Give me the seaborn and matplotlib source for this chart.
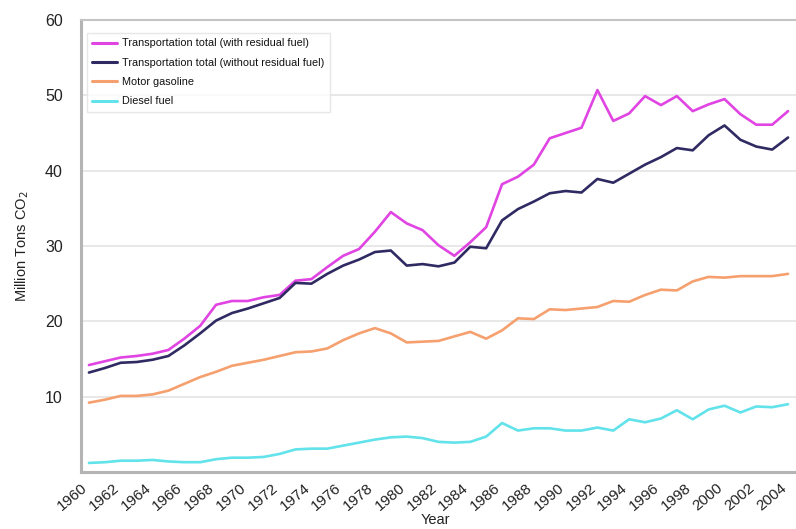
import matplotlib
matplotlib.use("Agg")
import matplotlib.pyplot as plt
import matplotlib.transforms as mtransforms
import numpy as np
import pandas as pd
import seaborn as sns

years = list(range(1960, 2005))

transport_with_residual = [
    14.2, 14.7, 15.2, 15.4, 15.7, 16.2, 17.7, 19.4, 22.2, 22.7,
    22.7, 23.2, 23.5, 25.4, 25.6, 27.2, 28.7, 29.6, 31.9, 34.5,
    33.0, 32.1, 30.1, 28.7, 30.5, 32.5, 38.2, 39.2, 40.8, 44.3,
    45.0, 45.7, 50.7, 46.6, 47.6, 49.9, 48.7, 49.9, 47.9, 48.8,
    49.5, 47.5, 46.1, 46.1, 47.9,
]
transport_without_residual = [
    13.2, 13.8, 14.5, 14.6, 14.9, 15.4, 16.8, 18.4, 20.1, 21.1,
    21.7, 22.4, 23.1, 25.1, 25.0, 26.3, 27.4, 28.2, 29.2, 29.4,
    27.4, 27.6, 27.3, 27.8, 29.9, 29.7, 33.4, 34.9, 35.9, 37.0,
    37.3, 37.1, 38.9, 38.4, 39.6, 40.8, 41.8, 43.0, 42.7, 44.7,
    46.0, 44.1, 43.2, 42.8, 44.4,
]
motor_gasoline = [
    9.2, 9.6, 10.1, 10.1, 10.3, 10.8, 11.7, 12.6, 13.3, 14.1,
    14.5, 14.9, 15.4, 15.9, 16.0, 16.4, 17.5, 18.4, 19.1, 18.4,
    17.2, 17.3, 17.4, 18.0, 18.6, 17.7, 18.8, 20.4, 20.3, 21.6,
    21.5, 21.7, 21.9, 22.7, 22.6, 23.5, 24.2, 24.1, 25.3, 25.9,
    25.8, 26.0, 26.0, 26.0, 26.3,
]
diesel_fuel = [
    1.2, 1.3, 1.5, 1.5, 1.6, 1.4, 1.3, 1.3, 1.7, 1.9,
    1.9, 2.0, 2.4, 3.0, 3.1, 3.1, 3.5, 3.9, 4.3, 4.6,
    4.7, 4.5, 4.0, 3.9, 4.0, 4.7, 6.5, 5.5, 5.8, 5.8,
    5.5, 5.5, 5.9, 5.5, 7.0, 6.6, 7.1, 8.2, 7.0, 8.3,
    8.8, 7.9, 8.7, 8.6, 9.0,
]

series_names = [
    "Transportation total (with residual fuel)",
    "Transportation total (without residual fuel)",
    "Motor gasoline",
    "Diesel fuel",
]
colors = ["#e044e2", "#2f2a62", "#f5a06e", "#62e2ea"]

x_tick_years = list(range(1960, 2005, 2))
y_ticks = [10, 20, 30, 40, 50, 60]

frames = []
for name, vals in zip(series_names, [transport_with_residual, transport_without_residual,
                                      motor_gasoline, diesel_fuel]):
    frames.append(pd.DataFrame({"Year": years, "Value": vals, "Series": name}))
df = pd.concat(frames, ignore_index=True)

sns.set_theme(style="white")
plt.rcParams["font.family"] = ["Liberation Sans", "DejaVu Sans"]

fig = plt.figure(figsize=(7.96, 5.29), dpi=100)
ax = fig.add_axes([81 / 796, 57 / 529, 715 / 796, 452 / 529])

sns.lineplot(data=df, x="Year", y="Value", hue="Series", hue_order=series_names,
             palette=colors, linewidth=1.9, ax=ax, legend=True)

ax.set_xlim(1959.5, 2004.5)
ax.set_ylim(0, 60)
ax.set_yticks(y_ticks)
ax.set_yticklabels([str(v) for v in y_ticks], fontsize=11.5, color="#222222")
ax.set_xticks(x_tick_years)
ax.set_xticklabels([str(v) for v in x_tick_years], fontsize=11, color="#222222",
                   rotation=40, ha="right", va="top", rotation_mode="anchor")
ax.tick_params(axis="y", length=0, pad=13)
ax.tick_params(axis="x", length=0, pad=6)

offset = mtransforms.ScaledTranslation(-8 / 100, 0, fig.dpi_scale_trans)
for lbl in ax.get_xticklabels():
    lbl.set_transform(lbl.get_transform() + offset)

ax.yaxis.grid(True, color="#e8e8e8", linewidth=1.4)
ax.xaxis.grid(False)
ax.set_axisbelow(True)

for side in ["left", "bottom"]:
    ax.spines[side].set_color("#b4b4b4")
    ax.spines[side].set_linewidth(2.2)
ax.spines["top"].set_color("#c4c4c4")
ax.spines["top"].set_linewidth(1.5)
ax.spines["right"].set_visible(False)

ax.set_xlabel("Year", fontsize=10.5, color="#222222")
ax.xaxis.set_label_coords(0.495, -0.09)
ax.set_ylabel("Million Tons CO$_2$", fontsize=10.5, color="#222222")
ax.yaxis.set_label_coords(-0.07, 0.5)

leg = ax.legend(title=None, loc="upper left", bbox_to_anchor=(6 / 715, 1 - 13 / 452),
                frameon=True, fancybox=False, fontsize=7.8, handlelength=2.3,
                handletextpad=0.46, labelspacing=0.86, borderpad=0.5, borderaxespad=0)
leg.get_frame().set_edgecolor("#e2e2e2")
leg.get_frame().set_linewidth(1.0)
for line in leg.get_lines():
    line.set_linewidth(2.2)
for t in leg.get_texts():
    t.set_color("#111111")

fig.savefig("out.png", dpi=100)
